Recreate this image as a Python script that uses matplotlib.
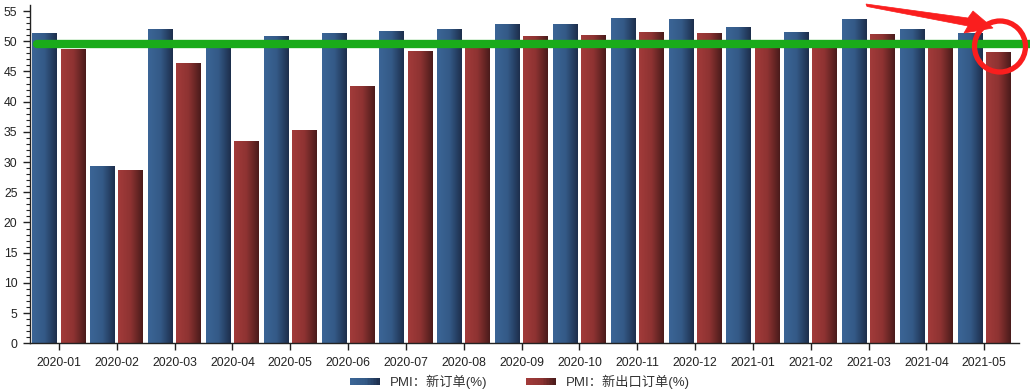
import numpy as np
import matplotlib.pyplot as plt
from matplotlib.colors import LinearSegmentedColormap
from matplotlib.patches import Rectangle, Ellipse, Polygon
from matplotlib.legend_handler import HandlerBase

plt.rcParams['font.family'] = ['Liberation Sans', 'Noto Sans CJK SC', 'DejaVu Sans']

# data
months = ['2020-01', '2020-02', '2020-03', '2020-04', '2020-05', '2020-06',
          '2020-07', '2020-08', '2020-09', '2020-10', '2020-11', '2020-12',
          '2021-01', '2021-02', '2021-03', '2021-04', '2021-05']
new_orders = [51.4, 29.3, 52.0, 50.2, 50.9, 51.4, 51.7, 52.0, 52.8, 52.8,
              53.9, 53.6, 52.3, 51.5, 53.6, 52.0, 51.3]
export_orders = [48.7, 28.7, 46.4, 33.5, 35.3, 42.6, 48.4, 49.1, 50.8, 51.0,
                 51.5, 51.3, 50.2, 48.8, 51.2, 50.1, 48.3]
line_level = 49.6

blue_cmap = LinearSegmentedColormap.from_list('b', ['#3b6596', '#345a87', '#1d2e4c'])
red_cmap = LinearSegmentedColormap.from_list('r', ['#a23b3a', '#8e3332', '#4a1b1b'])
grad = np.linspace(0, 1, 64).reshape(1, -1)

fig = plt.figure(figsize=(10.3, 3.92), dpi=100)
ax = fig.add_axes([30 / 1030, 48.7 / 392, 989 / 1030, 338.3 / 392])

x = np.arange(len(months))
w = 0.43
off = 0.243


def gradient_bars(xs, vals, cmap):
    bars = ax.bar(xs, vals, width=w, color='none', edgecolor='none')
    for b in bars:
        x0, y0 = b.get_x(), b.get_y()
        im = ax.imshow(grad, cmap=cmap, aspect='auto', interpolation='bilinear',
                       extent=[x0, x0 + b.get_width(), y0, y0 + b.get_height()],
                       zorder=2)
        im.set_clip_path(b)
    return bars


gradient_bars(x - off, new_orders, blue_cmap)
gradient_bars(x + off, export_orders, red_cmap)

ax.set_xlim(-0.5, 16.6)
ax.set_ylim(0, 56)

# green reference line (hand-drawn style annotation)
ax.plot([-0.38, 18], [line_level, line_level], color='#1aab1a', lw=6,
        solid_capstyle='round', clip_on=False, zorder=5)

ax.set_xticks(x)
ax.set_xticklabels(months)
ax.set_yticks(np.arange(0, 56, 5))
ax.set_yticks(np.arange(0, 56, 1), minor=True)
ax.tick_params(axis='both', labelsize=8.8, direction='out', labelcolor='#333333')
ax.tick_params(axis='x', length=5, width=1, pad=5, colors='#222222')
ax.tick_params(axis='y', which='major', length=5, width=1, pad=4, colors='#222222')
ax.tick_params(axis='y', which='minor', length=3, width=0.8, colors='#222222')
for s in ['top', 'right']:
    ax.spines[s].set_visible(False)
for s in ['left', 'bottom']:
    ax.spines[s].set_color('#222222')
    ax.spines[s].set_linewidth(1)


# legend with gradient swatches
class GradHandler(HandlerBase):
    def __init__(self, cmap):
        super().__init__()
        self.cmap = cmap

    def create_artists(self, legend, orig, xd, yd, width, height, fontsize, trans):
        n = 20
        arts = []
        h = height * 0.75
        for i in range(n):
            r = Rectangle((-xd + width * i / n, -yd + (height - h) / 2), width / n * 1.05, h,
                          facecolor=self.cmap(i / (n - 1)), edgecolor='none', transform=trans)
            arts.append(r)
        return arts


h1 = Rectangle((0, 0), 1, 1)
h2 = Rectangle((0, 0), 1, 1)
fig.legend([h1, h2], ['PMI：新订单(%)', 'PMI：新出口订单(%)'],
           handler_map={h1: GradHandler(blue_cmap), h2: GradHandler(red_cmap)},
           loc='center', bbox_to_anchor=(520 / 1030, 1 - 382 / 392), ncol=2,
           frameon=False, fontsize=9.5, handlelength=2.3, handleheight=0.7,
           handletextpad=0.75, columnspacing=2.9, labelcolor='#333333')


# red circle + arrow annotation (in pixel coordinates)
def px(xp, yp):
    return (xp / 1030, 1 - yp / 392)


circ = Ellipse(px(1000, 46.5), 51 / 1030, 51 / 392, transform=fig.transFigure,
               fill=False, edgecolor='#fa1e1e', lw=3.8, zorder=10)
fig.patches.append(circ)

arrow_pts = [(866, 4), (968, 18), (973, 11), (993, 28), (964, 33),
             (968, 26), (867, 6.5)]
arrow = Polygon([px(a, b) for a, b in arrow_pts], closed=True,
                transform=fig.transFigure, facecolor='#fa1e1e',
                edgecolor='#fa1e1e', lw=0.5, zorder=10)
fig.patches.append(arrow)

fig.savefig('out.png', dpi=100)
